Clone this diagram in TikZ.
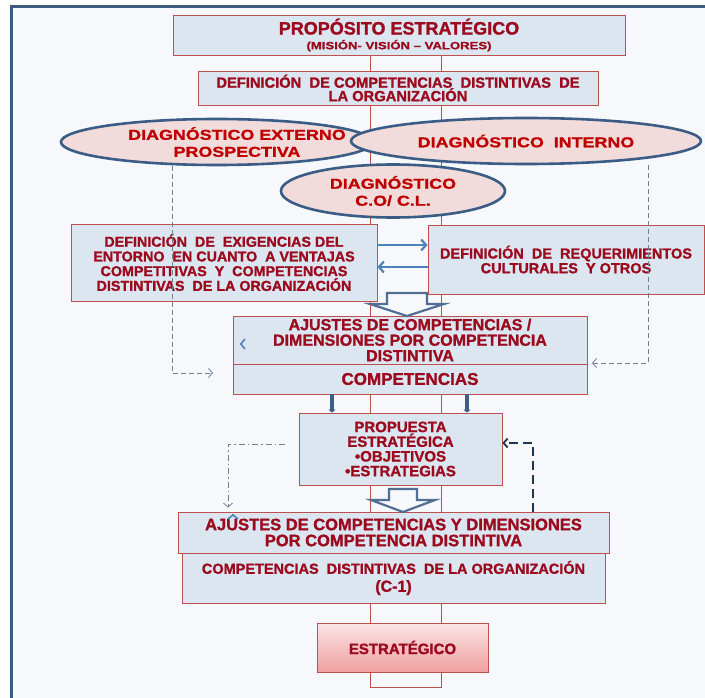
\documentclass[tikz,border=0pt]{standalone}
\usepackage{fontspec}
\setmainfont{Liberation Sans}[BoldFeatures={FakeBold=1.3}]
\newfontfamily\widefont{Liberation Sans}[FakeStretch=1.25, BoldFeatures={FakeBold=1.2}]
\usetikzlibrary{arrows.meta,backgrounds,shapes.geometric}
\definecolor{bg}{HTML}{F6F8FB}
\definecolor{frm}{HTML}{3E5A7C}
\definecolor{boxfill}{HTML}{DCE6F1}
\definecolor{boxline}{HTML}{C0504D}
\definecolor{txt}{HTML}{9C0A1E}
\definecolor{ovfill}{HTML}{F2DCDB}
\definecolor{ovline}{HTML}{3A5C85}
\definecolor{ovtxt}{HTML}{C00000}
\definecolor{arrblue}{HTML}{4F81BD}
\definecolor{dkblue}{HTML}{3D5F86}
\definecolor{navy}{HTML}{1F3550}
\definecolor{dgray}{HTML}{6F8196}
\definecolor{pinktop}{HTML}{FBE4E4}
\definecolor{pinkbot}{HTML}{F0A0A0}
\begin{document}
\begin{tikzpicture}[
        x=1pt, y=-1pt,
        box/.style={draw=boxline, fill=boxfill, line width=0.8pt, align=center, inner sep=0pt,
            text=txt, font=\bfseries\fontsize{15}{14.7}\selectfont},
        oval/.style={ellipse, draw=ovline, fill=ovfill, line width=2.6pt, align=center, inner sep=0pt,
            text=ovtxt, font=\widefont\bfseries\fontsize{14.3}{17}\selectfont},
        chan/.style={draw=boxline, line width=0.8pt},
        frame/.style={draw=frm, line width=3pt},
        bl/.style={draw=arrblue, line width=2.2pt, -{Straight Barb[length=5pt,width=11pt]}},
        thk/.style={draw=dkblue, line width=4.5pt, -{Triangle[length=3pt,width=7pt]}},
        gd/.style={draw=dgray, dash pattern=on 5pt off 3pt, line width=0.8pt, -{Straight Barb[length=4pt,width=9pt]}},
        gdd/.style={draw=dgray, dash pattern=on 6pt off 3pt on 1.5pt off 3pt, line width=0.8pt,
            -{Straight Barb[length=4pt,width=9pt]}, shorten >=4pt},
        ld/.style={draw=navy, line width=1.8pt, dash pattern=on 9pt off 5pt,
            -{Straight Barb[length=4pt,width=9pt]}},
        hollow/.style={draw=dkblue!90, line width=2.2pt, fill=bg, line join=miter},
        chev/.style={draw=arrblue, line width=1.6pt, -{Straight Barb[length=4pt,width=10pt]}},
    ]
    \useasboundingbox (0,0) rectangle (705,698);
    \coordinate (u) at (370,687);
    \coordinate (v) at (441,687);
    \coordinate (p) at (213,373);
    \coordinate (q) at (592,363);
    \coordinate (w) at (285,444);
    \coordinate (i) at (407,293);
    \coordinate (j) at (403,489);
    \coordinate (s) at (240,344);
    \coordinate (t) at (233,514);

    \node[box, minimum width=452pt, minimum height=40pt] (a) at (399,35)
        {{\fontsize{18}{18}\selectfont PROPÓSITO ESTRATÉGICO}\\
         {\widefont\bfseries\fontsize{10.5}{12}\selectfont (MISIÓN- VISIÓN – VALORES)}};
    \node[box, minimum width=400pt, minimum height=34pt, font=\bfseries\fontsize{14.7}{13.5}\selectfont] (b) at (398,88)
        {DEFINICIÓN~ DE COMPETENCIAS~ DISTINTIVAS~ DE\\LA ORGANIZACIÓN};
    \node[oval, minimum width=312pt, minimum height=46pt, inner xsep=-25pt] (c) at (217,142)
        {\hspace*{40pt}DIAGNÓSTICO EXTERNO\\\hspace*{40pt}PROSPECTIVA};
    \node[oval, minimum width=350pt, minimum height=46pt] (d) at (526,141)
        {DIAGNÓSTICO~ INTERNO};
    \node[oval, minimum width=224pt, minimum height=53pt] (e) at (393,191)
        {DIAGNÓSTICO\\C.O/ C.L.};
    \node[box, minimum width=306pt, minimum height=77pt, font=\bfseries\fontsize{14.3}{14.7}\selectfont] (g) at (224,262.5)
        {DEFINICIÓN~ DE~ EXIGENCIAS DEL\\ENTORNO~ EN CUANTO~ A VENTAJAS\\COMPETITIVAS~ Y~ COMPETENCIAS\\DISTINTIVAS~ DE LA ORGANIZACIÓN};
    \node[box, minimum width=276pt, minimum height=69pt, font=\bfseries\fontsize{14.5}{14.7}\selectfont] (h) at (566,259.5)
        {DEFINICIÓN~ DE~ REQUERIMIENTOS\\CULTURALES~ Y OTROS};
    \node[box, minimum width=354pt, minimum height=48pt, font=\bfseries\fontsize{16}{15.5}\selectfont] (k) at (410,340)
        {AJUSTES DE COMPETENCIAS /\\DIMENSIONES POR COMPETENCIA\\DISTINTIVA};
    \node[box, minimum width=354pt, minimum height=30pt, font=\bfseries\fontsize{17}{17}\selectfont] (l) at (410,379)
        {COMPETENCIAS};
    \node[box, minimum width=203pt, minimum height=72pt] (m) at (400.5,449)
        {PROPUESTA\\ESTRATÉGICA\\•OBJETIVOS\\•ESTRATEGIAS};
    \node[box, minimum width=431pt, minimum height=41pt, font=\bfseries\fontsize{16.5}{16}\selectfont] (n) at (393.5,532.5)
        {AJUSTES DE COMPETENCIAS Y DIMENSIONES\\POR COMPETENCIA DISTINTIVA};
    \node[box, minimum width=423pt, minimum height=50pt, font=\bfseries\fontsize{14.5}{18}\selectfont] (o) at (393.5,578)
        {COMPETENCIAS~ DISTINTIVAS~ DE LA ORGANIZACIÓN\\{\fontsize{16}{18}\selectfont (C-1)}};
    \node[box, top color=pinktop, bottom color=pinkbot, minimum width=171pt, minimum height=49pt] (r) at (402.5,647.5)
        {ESTRATÉGICO};

    \draw[bl] ([yshift=17.5pt]g.east) -- ([yshift=17.5pt]g.east -| h.west);
    \draw[bl] ([yshift=-4.5pt]g.east -| h.west) -- ([yshift=-4.5pt]g.east);
    \draw[hollow] (i) ++(-20,0) -- ++(40,0) -- ++(0,11) -- ++(17,0) -- ++(-37,12) -- ++(-37,-12) -- ++(17,0) -- cycle;
    \draw[hollow] (j) ++(-14,0) -- ++(28,0) -- ++(0,11) -- ++(18,0) -- ++(-32,12) -- ++(-32,-12) -- ++(18,0) -- cycle;
    \draw[thk] ([xshift=-78pt]l.south) -- ([xshift=-78pt]l.south |- m.north);
    \draw[thk] ([xshift=57pt]l.south) -- ([xshift=57pt]l.south |- m.north);
    \draw[gd] ([xshift=-45pt]c.south) |- (p);
    \draw[gd] ([xshift=122pt]d.south) |- (q);
    \draw[gdd] (w) -| ([xshift=-165.5pt]n.north);
    \draw[ld] ([xshift=139.5pt]n.north) |- ([yshift=6pt]m.east);
    \draw[chev] (s) -- ++(-0.1,0);
    \draw[chev] (t) -- ++(0,-0.1);

    \begin{scope}[on background layer]
        \fill[bg] (11,7) rectangle (705,698);
        \draw[chan] (a.south -| u) -- (u) -- (v) -- (a.south -| v);
    \end{scope}
    \draw[frame] (705,7) -| (11,698);
\end{tikzpicture}
\end{document}
